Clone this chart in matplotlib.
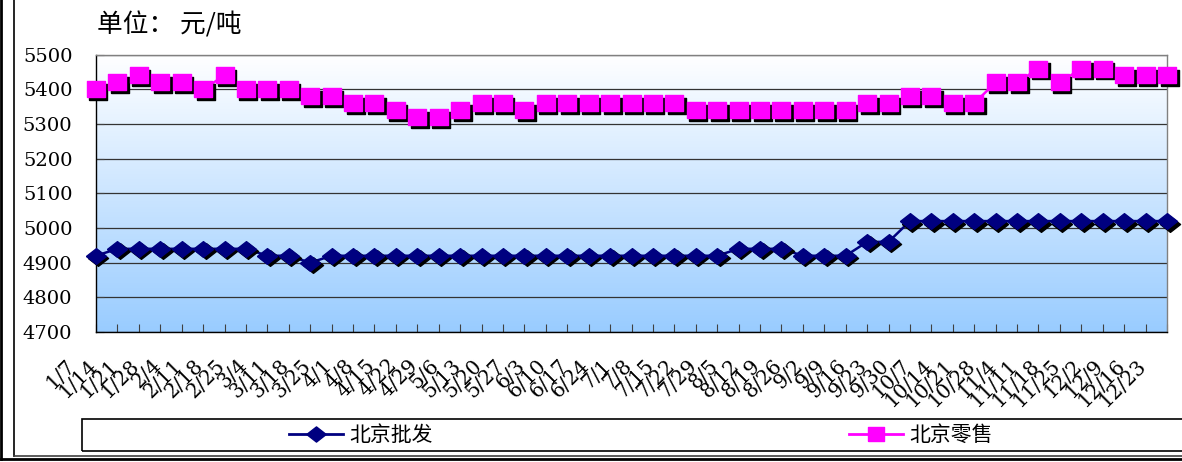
import numpy as np
import matplotlib
matplotlib.use('Agg')
import matplotlib.pyplot as plt
import matplotlib.transforms as mtransforms
from matplotlib.lines import Line2D
from matplotlib.patches import Rectangle

plt.rcParams['font.family'] = ['DejaVu Serif']
CJK = ['Noto Sans CJK SC', 'DejaVu Sans']

# weekly dates
weeks = ['1/7', '1/14', '1/21', '1/28', '2/4', '2/11', '2/18', '2/25',
         '3/4', '3/11', '3/18', '3/25', '4/1', '4/8', '4/15', '4/22', '4/29',
         '5/6', '5/13', '5/20', '5/27', '6/3', '6/10', '6/17', '6/24',
         '7/1', '7/8', '7/15', '7/22', '7/29', '8/5', '8/12', '8/19', '8/26',
         '9/2', '9/9', '9/16', '9/23', '9/30', '10/7', '10/14', '10/21',
         '10/28', '11/4', '11/11', '11/18', '11/25', '12/2', '12/9',
         '12/16', '12/23']

# 北京批发 (yuan / ton)
wholesale = [4920, 4940, 4940, 4940, 4940, 4940, 4940, 4940, 4920, 4920,
             4900, 4920, 4920, 4920, 4920, 4920, 4920, 4920, 4920, 4920,
             4920, 4920, 4920, 4920, 4920, 4920, 4920, 4920, 4920, 4920,
             4940, 4940, 4940, 4920, 4920, 4920, 4960, 4960, 5020, 5020,
             5020, 5020, 5020, 5020, 5020, 5020, 5020, 5020, 5020, 5020,
             5020]

# 北京零售 (yuan / ton)
retail = [5400, 5420, 5440, 5420, 5420, 5400, 5440, 5400, 5400, 5400,
          5380, 5380, 5360, 5360, 5340, 5320, 5320, 5340, 5360, 5360,
          5340, 5360, 5360, 5360, 5360, 5360, 5360, 5360, 5340, 5340,
          5340, 5340, 5340, 5340, 5340, 5340, 5360, 5360, 5380, 5380,
          5360, 5360, 5420, 5420, 5460, 5420, 5460, 5460, 5440, 5440,
          5440]

series_names = ['北京批发', '北京零售']
yticks = list(range(4700, 5501, 100))

NAVY = '#000080'
MAGENTA = '#FF00FF'

W, H = 1182, 462
fig = plt.figure(figsize=(W / 100, H / 100), dpi=100)
ax = fig.add_axes([96 / W, 1 - 332 / H, (1167 - 96) / W, (332 - 54.7) / H])

# white-to-blue background of the plot area
g = np.linspace(0, 1, 256)[:, None, None]
top_c = np.array([1.0, 1.0, 1.0])
bot_c = np.array([153, 204, 255]) / 255
ax.imshow(top_c * (1 - g) + bot_c * g, extent=[0, 1, 0, 1],
          transform=ax.transAxes, aspect='auto', zorder=0)

x = np.arange(len(weeks))
ax.set_xlim(0, len(weeks) - 1)
ax.set_ylim(yticks[0], yticks[-1])

diamond = [(-1, 0), (0, 0.78), (1, 0), (0, -0.78), (-1, 0)]
square = [(-1, -0.85), (-1, 0.85), (1, 0.85), (1, -0.85), (-1, -0.85)]
shadow = mtransforms.offset_copy(ax.transData, fig=fig, x=2.5, y=-2.5,
                                 units='dots')

for vals, col, mk, ms in [(wholesale, NAVY, diamond, 14.5),
                          (retail, MAGENTA, square, 13)]:
    ax.plot(x, vals, color=col, lw=1.8, zorder=3, clip_on=False)
    ax.plot(x, vals, ls='none', marker=mk, ms=ms, mfc='black', mec='black',
            transform=shadow, zorder=4, clip_on=False)
    ax.plot(x, vals, ls='none', marker=mk, ms=ms, mfc=col, mec=col,
            zorder=5, clip_on=False)

ax.set_yticks(yticks)
ax.set_yticklabels([str(v) for v in yticks], fontsize=14)
ax.set_xticks(x)
ax.set_xticklabels(weeks, rotation=45, ha='right', va='top', fontsize=14.5)
ax.tick_params(axis='x', direction='in', length=6, color='#404040', pad=17)
ax.tick_params(axis='y', direction='in', length=6, color='#404040', pad=17)
shift = mtransforms.ScaledTranslation(-17 / 100, 0, fig.dpi_scale_trans)
for lab in ax.get_xticklabels():
    lab.set_transform(lab.get_transform() + shift)

ax.yaxis.grid(True, color='#333333', lw=0.9)
for side in ['left', 'bottom']:
    ax.spines[side].set_color('black')
    ax.spines[side].set_linewidth(1.0)
for side in ['top', 'right']:
    ax.spines[side].set_color('#808080')
    ax.spines[side].set_linewidth(1.0)

fig.text(97 / W, 1 - 25 / H, '单位： 元/吨', fontsize=18.5, family=CJK,
         va='center', ha='left')

# legend strip along the bottom
handles = [Line2D([], [], color=NAVY, lw=2, marker=diamond, ms=14,
                  mfc=NAVY, mec=NAVY),
           Line2D([], [], color=MAGENTA, lw=2, marker=square, ms=12,
                  mfc=MAGENTA, mec=MAGENTA)]
fig.legend(handles, series_names, loc='center',
           bbox_to_anchor=(641 / W, 1 - 435 / H), ncol=2, frameon=False,
           prop={'family': CJK, 'size': 15}, handlelength=2.6,
           handletextpad=0.3, columnspacing=20)
fig.add_artist(Rectangle((82 / W, 1 - 451 / H), (1400 - 82) / W, 32 / H,
                         transform=fig.transFigure, fill=False,
                         ec='black', lw=1.2))

# chart and page borders
fig.add_artist(Line2D([14 / W, 14 / W], [1 - 456 / H, 1.1],
                      transform=fig.transFigure, color='black', lw=1.2))
fig.add_artist(Line2D([14 / W, 1.1], [1 - 456 / H, 1 - 456 / H],
                      transform=fig.transFigure, color='#404040', lw=1.2))
fig.add_artist(Line2D([1.5 / W, 1.5 / W], [1 - 459 / H, 1.1],
                      transform=fig.transFigure, color='black', lw=2))
fig.add_artist(Line2D([1.5 / W, 1.1], [1 - 459 / H, 1 - 459 / H],
                      transform=fig.transFigure, color='black', lw=2))

fig.savefig('out.png', dpi=100)
plt.close(fig)
